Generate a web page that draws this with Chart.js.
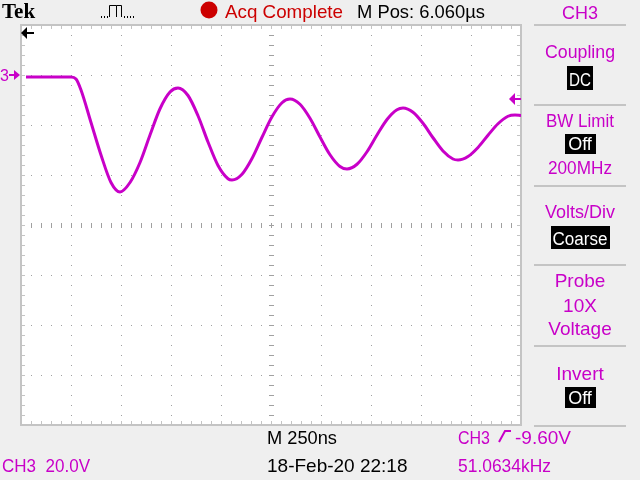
<!DOCTYPE html>
<html>
<head>
<meta charset="utf-8">
<script src="https://cdn.jsdelivr.net/npm/chart.js@4.4.1/dist/chart.umd.min.js"></script>
<style>
  html, body { margin: 0; padding: 0; background: #efefef; }
  canvas { display: block; }
</style>
</head>
<body>
<canvas id="scope" width="640" height="480"></canvas>
<script>
// time in ns, CH3 voltage in V (250ns/div, 20V/div)
const times = [25, 100, 175, 250, 275, 300, 350, 400, 450, 495,
  545, 595, 645, 695, 745, 785, 835, 885, 935, 985, 1035, 1055,
  1105, 1155, 1205, 1255, 1305, 1345, 1395, 1445, 1495, 1545, 1595, 1630,
  1680, 1730, 1780, 1830, 1880, 1910, 1960, 2010, 2060, 2110, 2160, 2185,
  2235, 2285, 2335, 2385, 2435, 2470, 2500];
const volts = [-0.8, -0.8, -0.8, -0.8, -1.6, -6, -19, -32, -43, -46.8,
  -43, -35, -24, -13.5, -6.8, -5.2, -8.2, -16.3, -26.8, -36.2, -41.5, -42,
  -39.7, -33.4, -24.9, -16.7, -11.1, -9.6, -11.7, -17.3, -24.8, -31.9, -36.6, -37.6,
  -35.7, -30.7, -24, -17.8, -13.9, -13.2, -14.9, -19.3, -25.1, -30.4, -33.6, -34,
  -32.6, -29, -24.1, -19.5, -16.5, -16, -16.2];

const timeTicks = [0, 250, 500, 750, 1000, 1250, 1500, 1750, 2000, 2250, 2500];
const voltTicks = [20, 0, -20, -40, -60, -80, -100, -120, -140];
const trigLevel = -9.6;

const menuTitles = ["Coupling", "BW Limit", "Volts/Div", "Probe", "Invert"];
const menuValues = ["DC", "Off", "Coarse", "", "Off"];
const menuExtra = ["", "200MHz", "", "10X\nVoltage", ""];

const MAG = "#c800c8";
const FONT = "'Liberation Sans', Arial, sans-serif";

function txt(ctx, s, x, y, color, size, maxW, align) {
  ctx.font = size + "px " + FONT;
  ctx.fillStyle = color;
  ctx.textAlign = align || "left";
  ctx.textBaseline = "alphabetic";
  if (maxW) ctx.fillText(s, x, y, maxW); else ctx.fillText(s, x, y);
}

function boxed(ctx, s, cx, top, w, h) {
  ctx.fillStyle = "#000";
  ctx.fillRect(Math.round(cx - w / 2), top, w, h);
  txt(ctx, s, cx, top + h - 4, "#fff", 18, w - 4, "center");
}

const scopePlugin = {
  id: "scope",
  beforeDraw(chart) {
    const ctx = chart.ctx;
    const xs = chart.scales.x, ys = chart.scales.y;
    const L = Math.round(xs.left), R = Math.round(xs.right);
    const T = Math.round(ys.top), B = Math.round(ys.bottom);
    ctx.save();
    ctx.fillStyle = "#efefef";
    ctx.fillRect(0, 0, chart.width, chart.height);
    ctx.fillStyle = "#fff";
    ctx.fillRect(L, T, R - L, B - T);

    // dotted graticule
    ctx.fillStyle = "#a0a0a0";
    const xStep = 50, yStep = 4;
    timeTicks.slice(1, -1).forEach(t => {
      const px = Math.round(xs.getPixelForValue(t));
      for (let v = voltTicks[0]; v >= voltTicks[voltTicks.length - 1]; v -= yStep) {
        ctx.fillRect(px, Math.round(ys.getPixelForValue(v)), 1, 1);
      }
    });
    voltTicks.slice(1, -1).forEach(v => {
      const py = Math.round(ys.getPixelForValue(v));
      for (let t = 0; t <= 2500; t += xStep) {
        ctx.fillRect(Math.round(xs.getPixelForValue(t)), py, 1, 1);
      }
    });
    // centre cross ticks
    const cx = Math.round(xs.getPixelForValue(1250));
    const cy = Math.round(ys.getPixelForValue(-60));
    for (let v = voltTicks[0]; v >= voltTicks[voltTicks.length - 1]; v -= yStep) {
      ctx.fillRect(cx - 2, Math.round(ys.getPixelForValue(v)), 5, 1);
    }
    for (let t = 0; t <= 2500; t += xStep) {
      ctx.fillRect(Math.round(xs.getPixelForValue(t)), cy - 2, 1, 5);
    }
    // border with inward ticks
    ctx.fillStyle = "#c4c4c4";
    ctx.fillRect(L - 1, T - 1, R - L + 2, 2);
    ctx.fillRect(L - 1, B - 1, R - L + 2, 2);
    ctx.fillRect(L - 1, T - 1, 2, B - T + 2);
    ctx.fillRect(R - 1, T - 1, 2, B - T + 2);
    for (let t = xStep; t < 2500; t += xStep) {
      const px = Math.round(xs.getPixelForValue(t));
      ctx.fillRect(px, T, 1, 4);
      ctx.fillRect(px, B - 4, 1, 4);
    }
    for (let v = voltTicks[0] - yStep; v > voltTicks[voltTicks.length - 1]; v -= yStep) {
      const py = Math.round(ys.getPixelForValue(v));
      ctx.fillRect(L, py, 4, 1);
      ctx.fillRect(R - 4, py, 4, 1);
    }
    ctx.restore();
  },
  afterDraw(chart) {
    const ctx = chart.ctx;
    const xs = chart.scales.x, ys = chart.scales.y;
    ctx.save();

    // top bar
    ctx.font = "bold 21px 'Liberation Serif', serif";
    ctx.fillStyle = "#000";
    ctx.textAlign = "left";
    ctx.fillText("Tek", 2, 18);
    // trigger type icon
    ctx.strokeStyle = "#000";
    ctx.lineWidth = 1;
    ctx.beginPath();
    ctx.moveTo(109.5, 17); ctx.lineTo(109.5, 5.5); ctx.lineTo(116.5, 5.5); ctx.lineTo(116.5, 17);
    ctx.moveTo(116.5, 5.5); ctx.lineTo(121.5, 5.5); ctx.lineTo(121.5, 17);
    ctx.stroke();
    ctx.fillStyle = "#000";
    [101, 104, 107, 124, 127, 130, 133].forEach(x => ctx.fillRect(x, 16, 1, 2));
    ctx.fillStyle = "#cc0000";
    ctx.beginPath();
    ctx.arc(209, 10, 8.5, 0, Math.PI * 2);
    ctx.fill();
    txt(ctx, "Acq Complete", 225, 18, "#cc0000", 19, 118);
    txt(ctx, "M Pos: 6.060\u00b5s", 357, 18, "#000", 19, 128);

    // right menu
    const mx = 580;
    txt(ctx, "CH3", mx, 19, MAG, 19, 36, "center");
    ctx.fillStyle = "#c4c4c4";
    [24, 104, 185, 264, 345, 425].forEach(y => ctx.fillRect(534, y, 92, 2));
    txt(ctx, menuTitles[0], mx, 58, MAG, 19, 70, "center");
    boxed(ctx, menuValues[0], mx, 66, 26, 24);
    txt(ctx, menuTitles[1], mx, 127, MAG, 19, 68, "center");
    boxed(ctx, menuValues[1], mx, 134, 31, 20);
    txt(ctx, menuExtra[1], mx, 174, MAG, 19, 64, "center");
    txt(ctx, menuTitles[2], mx, 218, MAG, 19, 70, "center");
    boxed(ctx, menuValues[2], mx, 226, 59, 23);
    txt(ctx, menuTitles[3], mx, 287, MAG, 19, 70, "center");
    const probe = menuExtra[3].split("\n");
    txt(ctx, probe[0], mx, 312, MAG, 19, 40, "center");
    txt(ctx, probe[1], mx, 335, MAG, 19, 64, "center");
    txt(ctx, menuTitles[4], mx, 380, MAG, 19, 52, "center");
    boxed(ctx, menuValues[4], mx, 387, 31, 21);

    // bottom readouts
    txt(ctx, "M 250ns", 267, 444, "#000", 19, 70);
    txt(ctx, "18-Feb-20 22:18", 267, 472, "#000", 19, 144);
    txt(ctx, "CH3  20.0V", 2, 472, MAG, 19, 88);
    txt(ctx, "CH3", 458, 444, MAG, 19, 32);
    ctx.strokeStyle = MAG;
    ctx.lineWidth = 2;
    ctx.beginPath();
    ctx.moveTo(499, 442); ctx.lineTo(505, 431); ctx.lineTo(511, 431);
    ctx.stroke();
    txt(ctx, "-9.60V", 515, 444, MAG, 19, 63);
    txt(ctx, "51.0634kHz", 458, 472, MAG, 19, 93);

    // ground marker "3+" on the left
    const gy = Math.round(ys.getPixelForValue(0));
    txt(ctx, "3", 0, gy + 6, MAG, 16);
    ctx.fillStyle = MAG;
    ctx.fillRect(9, gy - 1, 7, 2);
    ctx.beginPath();
    ctx.moveTo(20, gy); ctx.lineTo(14, gy - 5); ctx.lineTo(14, gy + 5); ctx.closePath();
    ctx.fill();

    // trigger position arrow (top) and trigger level arrow (right)
    const tx = Math.round(xs.left);
    ctx.fillStyle = "#000";
    ctx.beginPath();
    ctx.moveTo(tx, 33); ctx.lineTo(tx + 6, 27); ctx.lineTo(tx + 6, 39); ctx.closePath();
    ctx.fill();
    ctx.fillRect(tx + 5, 32, 8, 2);
    const ly = Math.round(ys.getPixelForValue(trigLevel));
    const rx = Math.round(xs.right);
    ctx.fillStyle = MAG;
    ctx.beginPath();
    ctx.moveTo(rx - 12, ly); ctx.lineTo(rx - 6, ly - 6); ctx.lineTo(rx - 6, ly + 6); ctx.closePath();
    ctx.fill();
    ctx.fillRect(rx - 7, ly - 1, 7, 2);
    ctx.restore();
  }
};

new Chart(document.getElementById("scope"), {
  type: "line",
  data: {
    labels: times,
    datasets: [{
      label: "CH3",
      data: times.map((t, i) => ({ x: t, y: volts[i] })),
      borderColor: MAG,
      borderWidth: 3,
      pointRadius: 0,
      cubicInterpolationMode: "monotone",
      fill: false
    }]
  },
  options: {
    responsive: false,
    animation: false,
    events: [],
    layout: { padding: { left: 21, top: 25, right: 119, bottom: 55 } },
    plugins: { legend: { display: false }, tooltip: { enabled: false } },
    scales: {
      x: { type: "linear", min: timeTicks[0], max: timeTicks[timeTicks.length - 1], display: false },
      y: { type: "linear", min: voltTicks[voltTicks.length - 1], max: voltTicks[0], display: false }
    }
  },
  plugins: [scopePlugin]
});
</script>
</body>
</html>
